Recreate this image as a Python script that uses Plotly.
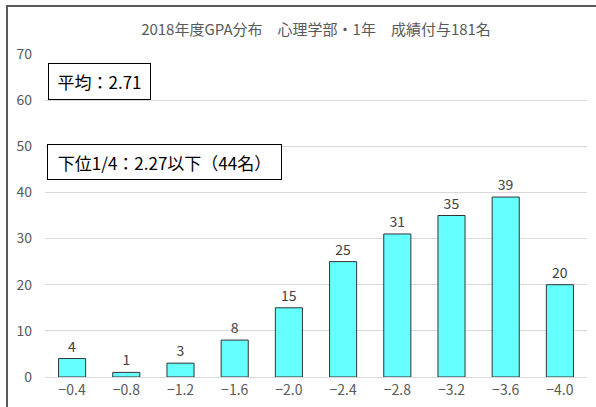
import plotly.graph_objects as go

categories = ["−0.4", "−0.8", "−1.2", "−1.6", "−2.0", "−2.4", "−2.8", "−3.2", "−3.6", "−4.0"]
counts = [4, 1, 3, 8, 15, 25, 31, 35, 39, 20]
title_text = "2018年度GPA分布　心理学部・1年　成績付与181名"
note_mean = "平均：2.71"
note_low = "下位1/4：2.27以下（44名）"
y_ticks = [0, 10, 20, 30, 40, 50, 60, 70]

FONT = "Noto Sans CJK JP, Noto Sans, sans-serif"
W, H = 596, 407
L, R, T, B = 45, 9, 54, 30
pw, ph = W - L - R, H - T - B

def px_x(x):
    return (x - L) / pw

def px_y(y):
    return (H - B - y) / ph

fig = go.Figure()
fig.add_trace(go.Bar(
    x=categories, y=counts,
    marker=dict(color="#66FFFF", line=dict(color="#333333", width=1)),
    text=[str(v) for v in counts], textposition="outside",
    textfont=dict(size=14, color="#404040", family=FONT),
    cliponaxis=False,
))

fig.update_layout(
    width=W, height=H,
    margin=dict(l=L, r=R, t=T, b=B),
    paper_bgcolor="white", plot_bgcolor="white",
    showlegend=False,
    bargap=0.5,
    font=dict(family=FONT),
    title=dict(text=title_text, x=0.5, xref="paper", xanchor="center",
               y=1 - 30 / H, yanchor="middle", yref="container",
               font=dict(size=15, color="#595959", family=FONT)),
    xaxis=dict(showgrid=False, showline=True, linecolor="#d9d9d9", linewidth=1,
               tickfont=dict(size=14, color="#595959", family=FONT), ticks=""),
    yaxis=dict(range=[0, 70], tickvals=y_ticks, showgrid=True, gridcolor="#d9d9d9",
               zeroline=False, showline=False, ticks="",
               tickfont=dict(size=14, color="#595959", family=FONT),
               ticklabelstandoff=12),
)

# outer frame lines (top and left)
fig.add_shape(type="line", xref="paper", yref="paper",
              x0=px_x(6), x1=px_x(W + 5), y0=px_y(6), y1=px_y(6),
              line=dict(color="#595959", width=2))
fig.add_shape(type="line", xref="paper", yref="paper",
              x0=px_x(7), x1=px_x(7), y0=px_y(5), y1=px_y(H + 5),
              line=dict(color="#595959", width=2))

fig.add_annotation(text=note_mean, xref="paper", yref="paper",
                   x=px_x(48), y=px_y(63), xanchor="left", yanchor="top",
                   showarrow=False, width=101, height=35, align="center",
                   bordercolor="#000000", borderwidth=1, borderpad=0, bgcolor="white",
                   font=dict(size=17, color="#000000", family=FONT))
fig.add_annotation(text=note_low, xref="paper", yref="paper",
                   x=px_x(47), y=px_y(144), xanchor="left", yanchor="top",
                   showarrow=False, width=233, height=34, align="center",
                   bordercolor="#000000", borderwidth=1, borderpad=0, bgcolor="white",
                   font=dict(size=17, color="#000000", family=FONT))

fig.write_html("out.html", config={"displayModeBar": False},
               post_script="document.body.style.margin='0px';document.body.style.padding='0px';")
